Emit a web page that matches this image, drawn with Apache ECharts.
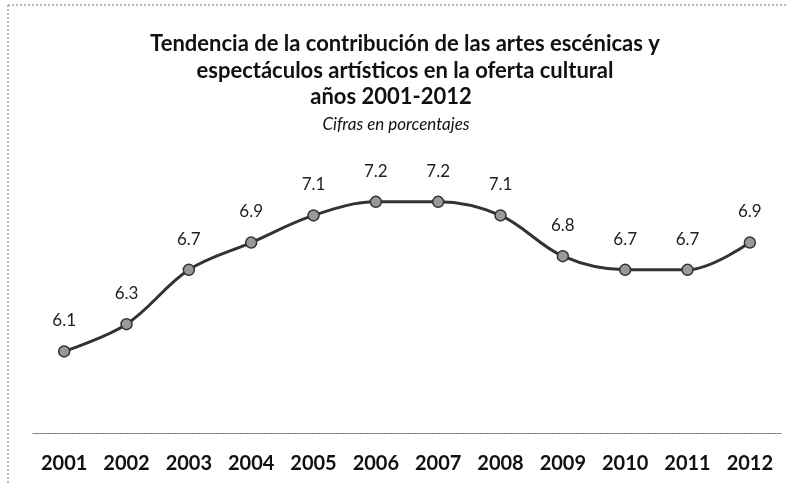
<!DOCTYPE html>
<html>
<head>
<meta charset="utf-8">
<script src="https://cdn.jsdelivr.net/npm/echarts@6/dist/echarts.min.js"></script>
<style>
html,body{margin:0;padding:0;background:#fff;}
#c{width:790px;height:483px;}
</style>
</head>
<body>
<div id="c"></div>
<script>
const years = ['2001','2002','2003','2004','2005','2006','2007','2008','2009','2010','2011','2012'];
const values = [6.1, 6.3, 6.7, 6.9, 7.1, 7.2, 7.2, 7.1, 6.8, 6.7, 6.7, 6.9];
const titleLines = ['Tendencia de la contribución de las artes escénicas y', 'espectáculos artísticos en la oferta cultural', 'años 2001-2012'];
const subtitleText = 'Cifras en porcentajes';

const titleStyle = {fontFamily: 'Lato', fontWeight: 'bold', fontSize: 22, color: '#111'};
const chart = echarts.init(document.getElementById('c'), null, {renderer: 'canvas'});
chart.setOption({
  backgroundColor: '#fff',
  animation: false,
  title: [
    {text: titleLines[0], left: 405, top: 33, textAlign: 'center', padding: 0, textStyle: titleStyle},
    {text: titleLines[1], left: 405, top: 60, textAlign: 'center', padding: 0, textStyle: titleStyle},
    {text: titleLines[2], left: 391, top: 86, textAlign: 'center', padding: 0, textStyle: titleStyle},
    {text: subtitleText, left: 396, top: 116, textAlign: 'center', padding: 0,
     textStyle: {fontFamily: 'Lato', fontStyle: 'italic', fontWeight: 'normal', fontSize: 17, color: '#111'}}
  ],
  graphic: [
    {type: 'line', shape: {x1: 8, y1: 5, x2: 788, y2: 5}, style: {stroke: '#777', lineWidth: 1, lineDash: [2, 2]}},
    {type: 'line', shape: {x1: 8, y1: 5, x2: 8, y2: 483}, style: {stroke: '#777', lineWidth: 1, lineDash: [2, 2]}}
  ],
  grid: {left: 33, right: 9, top: 161, bottom: 50},
  xAxis: {
    type: 'category',
    data: years,
    boundaryGap: true,
    axisLine: {lineStyle: {color: '#777', width: 1, type: [2, 1]}},
    axisTick: {show: false},
    axisLabel: {interval: 0, margin: 21, fontFamily: 'Lato', fontWeight: 'bold', fontSize: 20, color: '#111'}
  },
  yAxis: {
    type: 'value',
    min: 5.5,
    max: 7.5,
    show: false,
    splitLine: {show: false}
  },
  series: [{
    type: 'line',
    data: values,
    smooth: 0.35,
    symbol: 'circle',
    symbolSize: 11,
    lineStyle: {color: '#333', width: 3},
    itemStyle: {color: '#999', borderColor: '#333', borderWidth: 1.5},
    label: {
      show: true,
      position: 'top',
      distance: 16,
      fontFamily: 'Lato',
      fontSize: 17,
      color: '#222',
      formatter: p => p.value.toFixed(1)
    }
  }]
});
</script>
</body>
</html>
